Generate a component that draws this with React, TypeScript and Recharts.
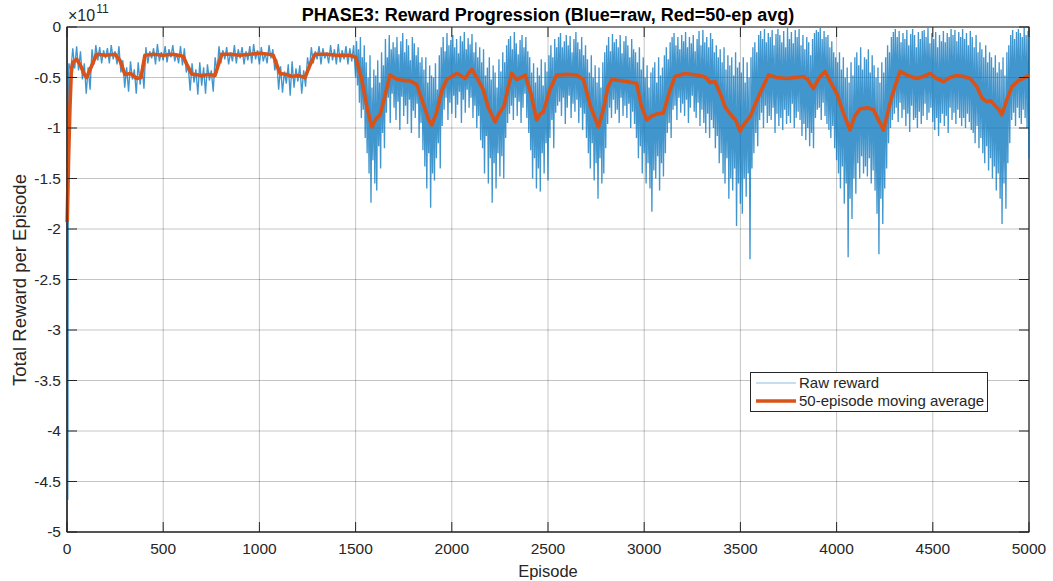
import React from "react";
import {
  LineChart,
  Line,
  XAxis,
  YAxis,
  CartesianGrid,
  ReferenceArea,
} from "recharts";

// Rewards are stored in units of 1e11 (the axis carries the "×10^11" multiplier).

// First few episodes, before the agent settles
const rawHeadEpisodes = [1, 3, 4, 5, 6, 7, 8, 9];
const rawHeadValues = [-2.9, -3.6, -4.68, -3.9, -2.55, -1.5, -0.6, -0.4];

// Raw reward, plateau phase: every 10 episodes from 10 to 1500
const STABLE_STEP = 10;
const rawStable = [
  -0.36, -0.44, -0.21, -0.41, -0.19, -0.43, -0.24, -0.52, -0.36, -0.66,
  -0.40, -0.62, -0.22, -0.37, -0.18, -0.33, -0.20, -0.36, -0.23, -0.31,
  -0.21, -0.36, -0.18, -0.32, -0.24, -0.37, -0.19, -0.45, -0.33, -0.60,
  -0.40, -0.64, -0.34, -0.52, -0.42, -0.66, -0.35, -0.57, -0.38, -0.61,
  -0.20, -0.36, -0.24, -0.31, -0.21, -0.37, -0.17, -0.34, -0.25, -0.33,
  -0.19, -0.35, -0.22, -0.30, -0.18, -0.34, -0.26, -0.36, -0.19, -0.38,
  -0.21, -0.45, -0.38, -0.63, -0.36, -0.55, -0.42, -0.67, -0.35, -0.58,
  -0.40, -0.66, -0.37, -0.53, -0.43, -0.64, -0.30, -0.45, -0.19, -0.36,
  -0.23, -0.32, -0.20, -0.37, -0.25, -0.34, -0.18, -0.36, -0.22, -0.31,
  -0.20, -0.37, -0.24, -0.33, -0.19, -0.36, -0.17, -0.32, -0.23, -0.37,
  -0.20, -0.34, -0.26, -0.36, -0.18, -0.31, -0.22, -0.43, -0.32, -0.62,
  -0.39, -0.65, -0.44, -0.56, -0.37, -0.68, -0.34, -0.60, -0.41, -0.54,
  -0.38, -0.66, -0.43, -0.59, -0.30, -0.42, -0.20, -0.36, -0.24, -0.32,
  -0.19, -0.37, -0.21, -0.31, -0.25, -0.36, -0.18, -0.33, -0.22, -0.37,
  -0.17, -0.35, -0.23, -0.32, -0.19, -0.37, -0.21, -0.34, -0.18, -0.50,
];

// Raw reward, volatile phase: every 5 episodes from 1505 to 5000
const VOLATILE_START = 1505;
const VOLATILE_STEP = 5;
const rawVolatile = [
  -0.14, -0.58, -0.22, -0.75, -0.10, -0.90, -0.30, -0.82, -0.18, -1.10,
  -0.35, -1.25, -0.50, -1.45, -0.28, -1.74, -0.60, -1.32, -0.42, -1.55,
  -0.48, -1.62, -0.33, -1.18, -0.55, -1.40, -0.25, -1.05, -0.38, -1.20,
  -0.12, -0.85, -0.30, -0.70, -0.08, -0.95, -0.22, -0.66, -0.15, -0.80,
  -0.20, -0.92, -0.10, -0.74, -0.27, -1.02, -0.14, -0.69, -0.06, -0.88,
  -0.25, -0.78, -0.12, -0.96, -0.18, -0.72, -0.33, -1.05, -0.10, -0.83,
  -0.16, -0.90, -0.28, -0.76, -0.20, -1.10, -0.35, -0.95, -0.30, -1.22,
  -0.42, -1.38, -0.30, -1.60, -0.55, -1.25, -0.38, -1.79, -0.48, -1.45,
  -0.50, -1.52, -0.36, -1.30, -0.62, -1.15, -0.28, -1.40, -0.20, -0.98,
  -0.10, -0.82, -0.24, -0.70, -0.06, -0.92, -0.18, -0.75, -0.13, -0.86,
  -0.08, -0.68, -0.20, -0.90, -0.12, -0.77, -0.26, -0.64, -0.09, -0.95,
  -0.14, -0.72, -0.05, -0.85, -0.22, -0.62, -0.11, -0.80, -0.17, -0.70,
  -0.07, -0.90, -0.25, -0.78, -0.15, -1.00, -0.30, -0.88, -0.20, -1.12,
  -0.35, -1.20, -0.22, -1.45, -0.48, -1.08, -0.40, -1.55, -0.30, -1.30,
  -0.52, -1.74, -0.38, -1.35, -0.45, -1.60, -0.60, -1.25, -0.32, -1.48,
  -0.44, -1.28, -0.25, -1.50, -0.35, -1.10, -0.18, -0.95, -0.12, -0.86,
  -0.09, -0.78, -0.22, -0.92, -0.05, -0.70, -0.16, -0.88, -0.27, -0.74,
  -0.13, -0.95, -0.08, -0.80, -0.20, -0.66, -0.10, -0.90, -0.24, -1.05,
  -0.30, -1.22, -0.45, -1.50, -0.36, -1.30, -0.55, -1.60, -0.40, -1.40,
  -0.48, -1.63, -0.32, -1.25, -0.58, -1.45, -0.35, -1.15, -0.44, -1.52,
  -0.28, -1.10, -0.18, -0.92, -0.30, -1.20, -0.12, -0.85, -0.20, -0.78,
  -0.10, -0.74, -0.06, -0.88, -0.20, -0.70, -0.14, -0.96, -0.08, -0.80,
  -0.18, -0.68, -0.09, -0.90, -0.25, -0.76, -0.12, -0.84, -0.05, -0.72,
  -0.15, -0.95, -0.22, -0.80, -0.10, -1.02, -0.28, -0.86, -0.18, -1.10,
  -0.32, -1.25, -0.45, -1.40, -0.28, -1.15, -0.50, -1.52, -0.38, -1.35,
  -0.55, -1.70, -0.40, -1.30, -0.60, -1.55, -0.35, -1.45, -0.25, -1.20,
  -0.18, -0.96, -0.10, -0.80, -0.24, -0.90, -0.07, -0.72, -0.15, -0.86,
  -0.12, -0.82, -0.20, -0.95, -0.08, -0.70, -0.26, -0.88, -0.14, -0.78,
  -0.09, -0.90, -0.18, -0.76, -0.30, -1.00, -0.12, -0.84, -0.22, -0.96,
  -0.25, -1.10, -0.35, -1.30, -0.20, -1.18, -0.42, -1.45, -0.30, -1.25,
  -0.50, -1.55, -0.38, -1.35, -0.60, -1.60, -0.45, -1.83, -0.40, -1.42,
  -0.35, -1.50, -0.55, -1.28, -0.30, -1.62, -0.48, -1.35, -0.40, -1.48,
  -0.28, -1.25, -0.20, -1.05, -0.32, -0.95, -0.15, -1.10, -0.10, -0.82,
  -0.06, -0.78, -0.18, -0.92, -0.10, -0.70, -0.22, -0.85, -0.08, -0.76,
  -0.14, -0.88, -0.05, -0.72, -0.20, -0.95, -0.10, -0.80, -0.16, -0.68,
  -0.08, -0.84, -0.24, -0.90, -0.12, -0.75, -0.04, -0.98, -0.18, -0.82,
  -0.03, -0.95, -0.15, -1.05, -0.10, -0.86, -0.20, -1.10, -0.06, -0.92,
  -0.12, -1.00, -0.25, -1.20, -0.18, -1.08, -0.30, -1.35, -0.22, -1.25,
  -0.35, -1.45, -0.20, -1.55, -0.42, -1.30, -0.28, -1.70, -0.38, -1.50,
  -0.30, -1.62, -0.48, -1.40, -0.25, -1.97, -0.40, -1.55, -0.35, -1.75,
  -0.45, -1.85, -0.30, -1.50, -0.55, -1.68, -0.35, -1.45, -0.50, -2.30,
  -0.30, -1.40, -0.20, -1.25, -0.15, -1.05, -0.25, -1.18, -0.08, -0.92,
  -0.04, -0.85, -0.12, -1.00, -0.02, -0.78, -0.15, -0.95, -0.06, -0.88,
  -0.10, -0.92, -0.03, -0.80, -0.18, -1.05, -0.07, -0.86, -0.02, -0.98,
  -0.08, -0.90, -0.15, -1.02, -0.04, -0.82, -0.20, -0.96, -0.01, -0.88,
  -0.12, -0.95, -0.05, -0.76, -0.16, -1.00, -0.03, -0.90, -0.10, -0.84,
  -0.02, -0.92, -0.18, -1.08, -0.08, -0.96, -0.22, -1.12, -0.10, -1.00,
  -0.15, -1.18, -0.28, -1.05, -0.12, -1.20, -0.06, -0.90, -0.03, -0.82,
  -0.05, -0.80, -0.01, -0.92, -0.12, -0.75, -0.04, -0.88, -0.10, -0.96,
  -0.08, -1.02, -0.20, -1.10, -0.14, -0.98, -0.25, -1.20, -0.30, -1.32,
  -0.35, -1.45, -0.25, -1.60, -0.42, -1.38, -0.30, -1.75, -0.50, -1.55,
  -0.40, -2.28, -0.55, -1.70, -0.35, -1.90, -0.48, -1.50, -0.30, -1.65,
  -0.25, -1.35, -0.38, -1.50, -0.20, -1.28, -0.42, -1.45, -0.30, -1.38,
  -0.32, -1.48, -0.22, -1.30, -0.45, -1.55, -0.28, -1.42, -0.38, -1.62,
  -0.50, -1.85, -0.40, -2.25, -0.55, -1.70, -0.35, -1.95, -0.45, -1.60,
  -0.30, -1.40, -0.18, -1.15, -0.25, -1.00, -0.10, -0.92, -0.05, -0.86,
  -0.02, -0.80, -0.10, -0.94, -0.04, -0.75, -0.15, -0.90, -0.06, -0.82,
  -0.12, -0.98, -0.03, -0.86, -0.18, -1.04, -0.07, -0.78, -0.02, -0.92,
  -0.08, -0.90, -0.20, -1.00, -0.05, -0.84, -0.12, -0.96, -0.04, -0.88,
  -0.03, -0.76, -0.10, -0.92, -0.01, -0.85, -0.16, -0.80, -0.06, -0.94,
  -0.12, -1.02, -0.05, -0.90, -0.20, -1.08, -0.08, -0.95, -0.14, -0.86,
  -0.04, -0.98, -0.15, -0.88, -0.06, -1.05, -0.10, -0.80, -0.02, -0.92,
  -0.08, -0.85, -0.03, -0.96, -0.14, -0.82, -0.05, -0.90, -0.10, -0.98,
  -0.02, -0.90, -0.12, -1.00, -0.06, -0.86, -0.18, -0.94, -0.04, -1.02,
  -0.10, -1.05, -0.20, -1.15, -0.08, -0.98, -0.25, -1.20, -0.15, -1.10,
  -0.22, -1.25, -0.30, -1.35, -0.18, -1.18, -0.35, -1.42, -0.25, -1.30,
  -0.30, -1.50, -0.40, -1.38, -0.28, -1.62, -0.45, -1.45, -0.35, -1.70,
  -0.42, -1.95, -0.30, -1.55, -0.48, -1.80, -0.25, -1.35, -0.18, -1.15,
  -0.08, -0.92, -0.03, -0.85, -0.12, -0.98, -0.05, -0.80, -0.02, -0.90,
  -0.06, -0.96, -0.10, -0.82, -0.01, -0.90, -0.08, -1.00, -0.04, -1.30,
];

// 50-episode moving average
const avgEpisodes = [
  1, 8, 15, 22, 30, 50, 70, 90, 102, 120, 154, 200, 250, 275, 301, 330, 362,
  385, 405, 450, 500, 550, 604, 625, 648, 700, 740, 769, 804, 850, 900, 950,
  1000, 1050, 1072, 1107, 1140, 1170, 1200, 1237, 1262, 1289, 1350, 1400,
  1471, 1500, 1530, 1560, 1584, 1600, 1610, 1627, 1650, 1679, 1700, 1720,
  1750, 1780, 1818, 1850, 1880, 1896, 1920, 1950, 1974, 2000, 2026, 2045,
  2069, 2090, 2104, 2130, 2163, 2190, 2225, 2245, 2270, 2290, 2311, 2337,
  2360, 2381, 2410, 2441, 2460, 2476, 2510, 2545, 2600, 2649, 2684, 2720,
  2750, 2762, 2790, 2810, 2831, 2870, 2910, 2961, 2985, 3013, 3040, 3070,
  3100, 3130, 3160, 3212, 3250, 3290, 3320, 3342, 3368, 3400, 3420, 3455,
  3475, 3498, 3520, 3550, 3580, 3611, 3646, 3690, 3741, 3780, 3827, 3850,
  3879, 3910, 3940, 3970, 4001, 4035, 4070, 4095, 4122, 4160, 4192, 4220,
  4244, 4265, 4287, 4310, 4330, 4370, 4417, 4450, 4486, 4520, 4556, 4590,
  4625, 4660, 4694, 4729, 4755, 4781, 4800, 4824, 4845, 4859, 4885, 4911,
  4945, 4970, 5000,
];
const avgValues = [
  -1.93, -1.3, -0.8, -0.45, -0.35, -0.32, -0.38, -0.47, -0.5, -0.42, -0.27,
  -0.28, -0.27, -0.33, -0.47, -0.46, -0.51, -0.5, -0.28, -0.27, -0.28, -0.27,
  -0.29, -0.38, -0.465, -0.48, -0.47, -0.48, -0.27, -0.27, -0.28, -0.27,
  -0.26, -0.27, -0.28, -0.46, -0.47, -0.49, -0.48, -0.5, -0.38, -0.27, -0.27,
  -0.28, -0.28, -0.3, -0.5, -0.8, -0.99, -0.93, -0.9, -0.87, -0.7, -0.475,
  -0.5, -0.52, -0.53, -0.53, -0.57, -0.75, -0.92, -0.97, -0.85, -0.62, -0.52,
  -0.49, -0.46, -0.48, -0.51, -0.45, -0.42, -0.5, -0.62, -0.8, -0.94, -0.86,
  -0.79, -0.62, -0.46, -0.52, -0.5, -0.475, -0.65, -0.92, -0.86, -0.84,
  -0.62, -0.475, -0.47, -0.475, -0.52, -0.78, -0.93, -0.99, -0.8, -0.6,
  -0.52, -0.53, -0.54, -0.56, -0.78, -0.92, -0.88, -0.86, -0.85, -0.65,
  -0.49, -0.46, -0.47, -0.48, -0.5, -0.55, -0.54, -0.68, -0.79, -0.88, -0.92,
  -1.03, -0.96, -0.89, -0.75, -0.62, -0.475, -0.5, -0.51, -0.5, -0.49, -0.52,
  -0.61, -0.5, -0.44, -0.55, -0.66, -0.85, -1.02, -0.88, -0.81, -0.8, -0.82,
  -0.93, -1.02, -0.85, -0.69, -0.55, -0.44, -0.48, -0.51, -0.49, -0.46,
  -0.51, -0.54, -0.5, -0.48, -0.49, -0.51, -0.59, -0.7, -0.74, -0.73, -0.78,
  -0.82, -0.87, -0.72, -0.59, -0.53, -0.51, -0.475,
];

const xTicks = [0, 500, 1000, 1500, 2000, 2500, 3000, 3500, 4000, 4500, 5000];
const yTicks = [-5, -4.5, -4, -3.5, -3, -2.5, -2, -1.5, -1, -0.5, 0];

const titleText = "PHASE3: Reward Progression (Blue=raw, Red=50-ep avg)";
const xLabelText = "Episode";
const yLabelText = "Total Reward per Episode";
const legendRaw = "Raw reward";
const legendAvg = "50-episode moving average";

const rawData = [
  ...rawHeadValues.map((v, i) => ({ ep: rawHeadEpisodes[i], v })),
  ...rawStable.map((v, i) => ({ ep: (i + 1) * STABLE_STEP, v })),
  ...rawVolatile.map((v, i) => ({ ep: VOLATILE_START + i * VOLATILE_STEP, v })),
];
const avgData = avgValues.map((v, i) => ({ ep: avgEpisodes[i], v }));

// Layout
const W = 1053;
const H = 581;
const PLOT_LEFT = 67;
const PLOT_RIGHT = 1029;
const PLOT_TOP = 27;
const PLOT_BOTTOM = 532;
const TICK_LEN = 10;
const FONT = "'Liberation Sans', Arial, Helvetica, sans-serif";
const INK = "#262626";
const BLUE = "#0072BD";
const RED = "#D95319";

const XTick = (props: any) => {
  const { x, payload } = props;
  return (
    <g>
      <line x1={x} x2={x} y1={PLOT_BOTTOM} y2={PLOT_BOTTOM - TICK_LEN} stroke={INK} strokeWidth={1} />
      <line x1={x} x2={x} y1={PLOT_TOP} y2={PLOT_TOP + TICK_LEN} stroke={INK} strokeWidth={1} />
      <text x={x} y={PLOT_BOTTOM + 22} textAnchor="middle" fill={INK} fontSize={15.5} fontFamily={FONT}>
        {payload.value}
      </text>
    </g>
  );
};

const YTick = (props: any) => {
  const { y, payload } = props;
  return (
    <g>
      <line x1={PLOT_LEFT} x2={PLOT_LEFT + TICK_LEN} y1={y} y2={y} stroke={INK} strokeWidth={1} />
      <line x1={PLOT_RIGHT} x2={PLOT_RIGHT - TICK_LEN} y1={y} y2={y} stroke={INK} strokeWidth={1} />
      <text x={PLOT_LEFT - 6} y={y + 5} textAnchor="end" fill={INK} fontSize={15.5} fontFamily={FONT}>
        {String(payload.value)}
      </text>
    </g>
  );
};

export default function App() {
  return (
    <div style={{ position: "absolute", left: 0, top: 0, width: W, height: H, background: "#fff", fontFamily: FONT }}>
      <LineChart
        width={W}
        height={H}
        data={rawData}
        margin={{ top: PLOT_TOP, right: W - PLOT_RIGHT, bottom: 0, left: 0 }}
      >
        <CartesianGrid stroke={INK} strokeOpacity={0.27} strokeWidth={1} />
        <XAxis
          dataKey="ep"
          type="number"
          domain={[0, 5000]}
          ticks={xTicks}
          interval={0}
          height={H - PLOT_BOTTOM}
          tickLine={false}
          axisLine={{ stroke: INK, strokeWidth: 1.2 }}
          tick={<XTick />}
        />
        <YAxis
          type="number"
          domain={[-5, 0]}
          ticks={yTicks}
          interval={0}
          width={PLOT_LEFT}
          tickLine={false}
          axisLine={{ stroke: INK, strokeWidth: 1.2 }}
          tick={<YTick />}
        />
        <Line
          data={rawData}
          dataKey="v"
          type="linear"
          stroke={BLUE}
          strokeOpacity={0.74}
          strokeWidth={1.35}
          dot={false}
          activeDot={false}
          isAnimationActive={false}
        />
        <Line
          data={avgData}
          dataKey="v"
          type="linear"
          stroke={RED}
          strokeWidth={3.7}
          strokeLinejoin="round"
          dot={false}
          activeDot={false}
          isAnimationActive={false}
        />
        <ReferenceArea
          x1={0}
          x2={5000}
          y1={-5}
          y2={0}
          fill="none"
          stroke={INK}
          strokeWidth={1.2}
          ifOverflow="visible"
        />
      </LineChart>

      {/* Title */}
      <div
        style={{
          position: "absolute",
          left: PLOT_LEFT,
          width: PLOT_RIGHT - PLOT_LEFT,
          top: 5,
          textAlign: "center",
          fontWeight: "bold",
          fontSize: 18,
          color: "#000",
          lineHeight: "20px",
          whiteSpace: "nowrap",
        }}
      >
        {titleText}
      </div>

      {/* Exponent multiplier */}
      <div style={{ position: "absolute", left: 68, top: 6, color: INK, fontSize: 16, lineHeight: "20px", whiteSpace: "nowrap" }}>
        ×10<span style={{ fontSize: 12, position: "relative", top: -8, marginLeft: 1 }}>11</span>
      </div>

      {/* Axis labels */}
      <div
        style={{
          position: "absolute",
          left: PLOT_LEFT,
          width: PLOT_RIGHT - PLOT_LEFT,
          top: 561,
          textAlign: "center",
          fontSize: 16.5,
          color: INK,
          lineHeight: "20px",
        }}
      >
        {xLabelText}
      </div>
      <div
        style={{
          position: "absolute",
          left: 20,
          top: (PLOT_TOP + PLOT_BOTTOM) / 2,
          transform: "translate(-50%, -50%) rotate(-90deg)",
          fontSize: 18.5,
          color: INK,
          whiteSpace: "nowrap",
          lineHeight: "20px",
        }}
      >
        {yLabelText}
      </div>

      {/* Legend */}
      <div
        style={{
          position: "absolute",
          left: 750,
          top: 372,
          border: `1.3px solid ${INK}`,
          background: "#fff",
          padding: "1px 3px 1px 4px",
          fontSize: 15,
          color: INK,
          lineHeight: "18px",
        }}
      >
        <div style={{ display: "flex", alignItems: "center", whiteSpace: "nowrap" }}>
          <svg width={42} height={18}>
            <line x1={1} x2={41} y1={9} y2={9} stroke={BLUE} strokeOpacity={0.3} strokeWidth={1.5} />
          </svg>
          <span style={{ marginLeft: 2 }}>{legendRaw}</span>
        </div>
        <div style={{ display: "flex", alignItems: "center", whiteSpace: "nowrap" }}>
          <svg width={42} height={18}>
            <line x1={1} x2={41} y1={9} y2={9} stroke={RED} strokeWidth={3.7} />
          </svg>
          <span style={{ marginLeft: 2 }}>{legendAvg}</span>
        </div>
      </div>
    </div>
  );
}
